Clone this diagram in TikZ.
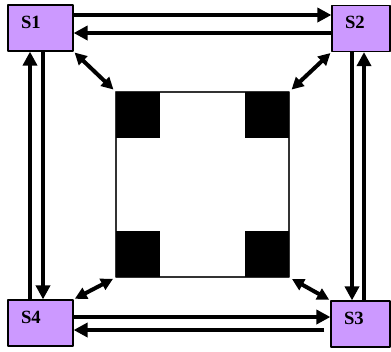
\documentclass[tikz,border=0pt]{standalone}
\usepackage{fontspec}
\setmainfont{Liberation Serif}
\usetikzlibrary{arrows.meta,calc}
\definecolor{stn}{RGB}{204,153,255}
\tikzset{
  station/.style={draw, fill=stn, line width=0.9pt, text width=#1, align=left,
    inner xsep=9.75pt, inner ysep=0pt, text height=17.5pt, text depth=17pt,
    font=\fontsize{14}{14}\selectfont\bfseries},
  block/.style={fill=black, minimum width=33pt, minimum height=34.5pt, inner sep=0pt},
  link/.style={line width=3.4pt, -{Triangle[length=10.5pt,width=10.5pt]}},
  spoke/.style={line width=3pt, {Triangle[length=9pt,width=9pt]}-{Triangle[length=9pt,width=9pt]}}
}

\begin{document}
\begin{tikzpicture}[x=0.75pt, y=-0.75pt, line join=round]
	\useasboundingbox (0,0) rectangle (391,351);
	% central square and its corners
	\node[draw=black!80, line width=0.9pt, minimum width=129.75pt, minimum height=138.75pt, inner sep=0pt] (hub) at (202.5,184.5) {};
	\node[block, anchor=north west] (k1) at (hub.north west) {};
	\node[block, anchor=north east] (k2) at (hub.north east) {};
	\node[block, anchor=south east] (k3) at (hub.south east) {};
	\node[block, anchor=south west] (k4) at (hub.south west) {};
	% stations
	\node[station=29.25pt] (S1) at (40.5,28) {S1};
	\node[station=24pt] (S2) at (361,28.5) {S2};
	\node[station=24.75pt] (S3) at (360.5,324) {S3};
	\node[station=29.25pt] (S4) at (40.5,323) {S4};
	% ring
	\draw[link] ($(S1.east)+(0,-13)$) -- ($(S2.west)+(0,-13.5)$);
	\draw[link] ($(S2.west)+(0,4.5)$) -- ($(S1.east)+(0,5)$);
	\draw[link] ($(S2.south)+(-9,0)$) -- ($(S3.north)+(-8.5,0)$);
	\draw[link] ($(S3.north)+(3.5,0)$) -- ($(S2.south)+(3,0)$);
	\draw[link] ($(S4.east)+(0,-6)$) -- ($(S3.west)+(0,-7)$);
	\draw[link, shorten <=4.5pt] ($(S3.west)+(0,6)$) -- ($(S4.east)+(0,7)$);
	\draw[link] ($(S4.north)+(-10.5,0)$) -- ($(S1.south)+(-10.5,0)$);
	\draw[link] ($(S1.south)+(2.5,0)$) -- ($(S4.north)+(2.5,0)$);
	% spokes
	\draw[spoke, shorten <=1pt, shorten >=2pt] (S1.south east) -- (k1.north west);
	\draw[spoke, shorten <=1pt, shorten >=2pt] (S2.south west) -- (k2.north east);
	\draw[spoke, shorten <=1pt, shorten >=2pt] (S3.north west) -- (k3.south east);
	\draw[spoke, shorten <=1pt, shorten >=2pt] (S4.north east) -- (k4.south west);
\end{tikzpicture}
\end{document}
